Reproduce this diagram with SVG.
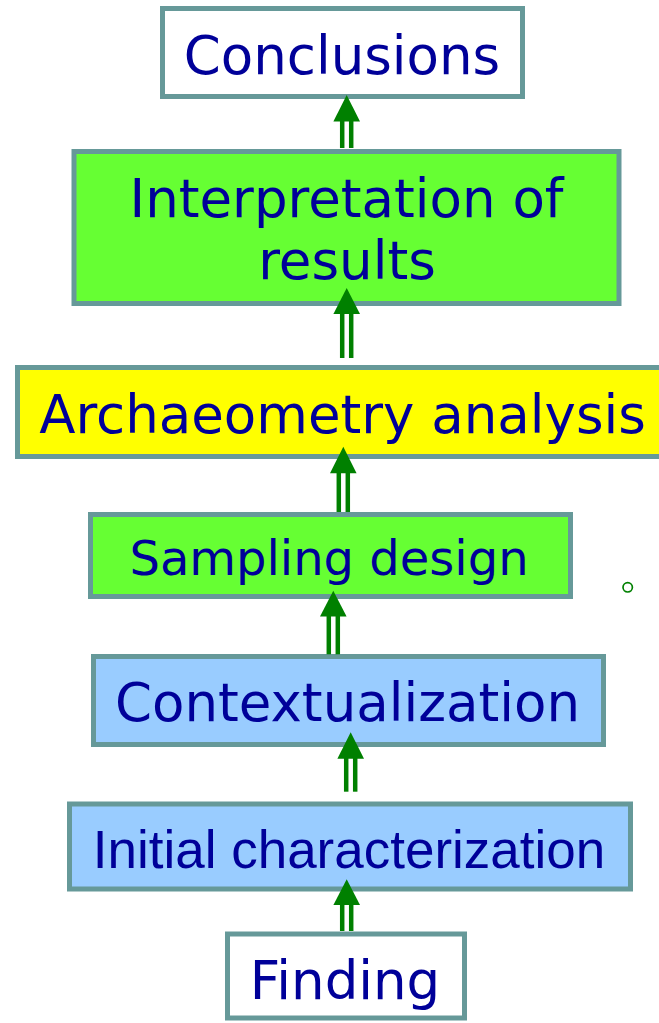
<svg xmlns="http://www.w3.org/2000/svg" width="659" height="1023" viewBox="0 0 659 1023">
  <style>
    .box { stroke: #669999; stroke-width: 5; }
    .white { fill: #ffffff; }
    .green { fill: #66ff33; }
    .yellow { fill: #ffff00; }
    .blue { fill: #99ccff; }
    .lbl { font-family: "DejaVu Sans", Verdana, sans-serif; font-size: 53px; fill: #000099; text-anchor: middle; }
    .lbl.small { font-size: 48px; }
    .lbl-arial { font-family: "Liberation Sans", Arial, sans-serif; font-size: 53px; fill: #000099; text-anchor: middle; }
    .shaft { stroke: #008000; stroke-width: 4.5; }
    .head { fill: #008000; }
  </style>
  <rect width="659" height="1023" fill="#ffffff"/>

  <g id="conclusions">
    <rect class="box white" x="162.5" y="8.5" width="360" height="88"/>
    <text class="lbl" x="342" y="74">Conclusions</text>
  </g>

  <g id="interpretation">
    <rect class="box green" x="74" y="151.5" width="545" height="152"/>
    <text class="lbl" x="346.5" y="217">Interpretation of</text>
    <text class="lbl" x="347" y="279">results</text>
  </g>

  <g id="archaeometry">
    <rect class="box yellow" x="17.5" y="367.5" width="645" height="89"/>
    <text class="lbl" x="342.5" y="433">Archaeometry analysis</text>
  </g>

  <g id="sampling">
    <rect class="box green" x="90.5" y="514.5" width="480" height="82"/>
    <text class="lbl small" x="329" y="575">Sampling design</text>
  </g>

  <g id="contextualization">
    <rect class="box blue" x="93.5" y="656.5" width="510" height="88"/>
    <text class="lbl" x="347.5" y="721">Contextualization</text>
  </g>

  <g id="initial">
    <rect class="box blue" x="69.5" y="804" width="561" height="85"/>
    <text class="lbl-arial" x="349" y="868">Initial characterization</text>
  </g>

  <g id="finding">
    <rect class="box white" x="227.5" y="934" width="237" height="84"/>
    <text class="lbl" x="345" y="999">Finding</text>
  </g>

  <g id="connectors">
    <!-- Interpretation -> Conclusions -->
    <line class="shaft" x1="342.2" y1="121" x2="342.2" y2="148"/>
    <line class="shaft" x1="351.2" y1="121" x2="351.2" y2="148"/>
    <polygon class="head" points="346.7,95 333.4,121.5 360,121.5"/>
    <!-- Archaeometry -> Interpretation -->
    <line class="shaft" x1="342.2" y1="313" x2="342.2" y2="358"/>
    <line class="shaft" x1="351.2" y1="313" x2="351.2" y2="358"/>
    <polygon class="head" points="346.7,288 333.4,314 360,314"/>
    <!-- Sampling -> Archaeometry -->
    <line class="shaft" x1="338.8" y1="472" x2="338.8" y2="512"/>
    <line class="shaft" x1="347.8" y1="472" x2="347.8" y2="512"/>
    <polygon class="head" points="343.3,446.7 330,473.3 356.6,473.3"/>
    <!-- Contextualization -> Sampling -->
    <line class="shaft" x1="328.8" y1="615" x2="328.8" y2="654.3"/>
    <line class="shaft" x1="337.8" y1="615" x2="337.8" y2="654.3"/>
    <polygon class="head" points="333.3,590.7 320,616.5 346.6,616.5"/>
    <!-- Initial characterization -> Contextualization -->
    <line class="shaft" x1="346.2" y1="757" x2="346.2" y2="791.7"/>
    <line class="shaft" x1="355.2" y1="757" x2="355.2" y2="791.7"/>
    <polygon class="head" points="350.7,732.3 337.4,758.7 364,758.7"/>
    <!-- Finding -> Initial characterization -->
    <line class="shaft" x1="342.2" y1="904" x2="342.2" y2="931"/>
    <line class="shaft" x1="351.2" y1="904" x2="351.2" y2="931"/>
    <polygon class="head" points="346.7,879.3 333.4,905 360,905"/>
  </g>

  <circle cx="627.7" cy="587.3" r="4.7" fill="none" stroke="#008000" stroke-width="1.7"/>
</svg>
